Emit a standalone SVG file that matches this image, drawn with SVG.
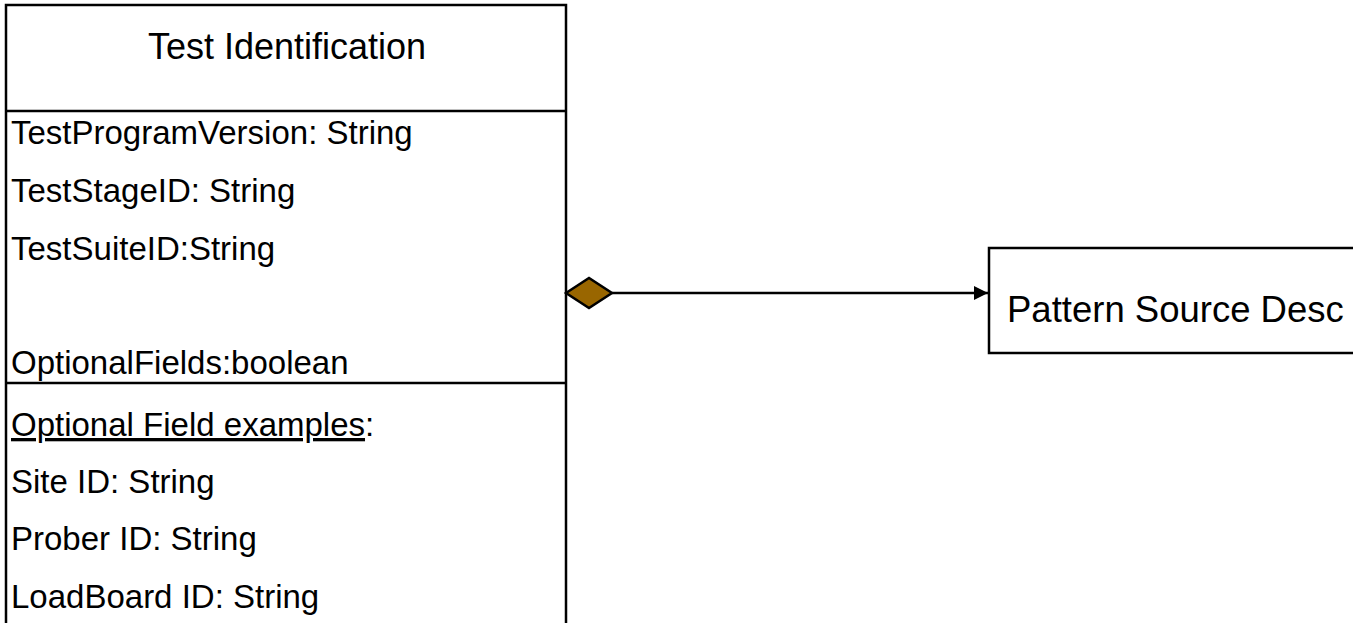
<svg xmlns="http://www.w3.org/2000/svg" width="1353" height="623" viewBox="0 0 1353 623">
<style>
.box{fill:#fff;stroke:#000;stroke-width:2.5}
.div{stroke:#000;stroke-width:2.5}
.t{font-family:"Liberation Sans",Arial,sans-serif;fill:#000}
.a{font-size:33px}
.h{font-size:36px}
.p{font-size:36.5px}
</style>
<defs>
<marker id="arr" markerWidth="16" markerHeight="16" refX="14" refY="7" orient="auto" markerUnits="userSpaceOnUse">
<path d="M0,0 L14,7 L0,14 z" fill="#000"/>
</marker>
</defs>
<rect width="1353" height="623" fill="#fff"/>
<g id="test-identification">
<rect class="box" x="6" y="5" width="560" height="640"/>
<line class="div" x1="6" y1="111" x2="566" y2="111"/>
<line class="div" x1="6" y1="383" x2="566" y2="383"/>
<text class="t h" x="287" y="59" text-anchor="middle">Test Identification</text>
<text class="t a" x="11" y="144">TestProgramVersion: String</text>
<text class="t a" x="11" y="202">TestStageID: String</text>
<text class="t a" x="11" y="260">TestSuiteID:String</text>
<text class="t a" x="11" y="374">OptionalFields:boolean</text>
<text class="t a" x="11" y="436"><tspan text-decoration="underline">Optional Field examples</tspan>:</text>
<text class="t a" x="11" y="493">Site ID: String</text>
<text class="t a" x="11" y="550">Prober ID: String</text>
<text class="t a" x="11" y="608">LoadBoard ID: String</text>
</g>
<g id="pattern-source-desc">
<rect class="box" x="989" y="248" width="380" height="105"/>
<text class="t p" x="1007" y="322">Pattern Source Desc</text>
</g>
<g id="connectors">
<line x1="612" y1="293" x2="988" y2="293" stroke="#000" stroke-width="2.5" marker-end="url(#arr)"/>
<polygon points="566,293 589,278 612,293 589,308" fill="#996600" stroke="#000" stroke-width="2.5"/>
</g>
</svg>
